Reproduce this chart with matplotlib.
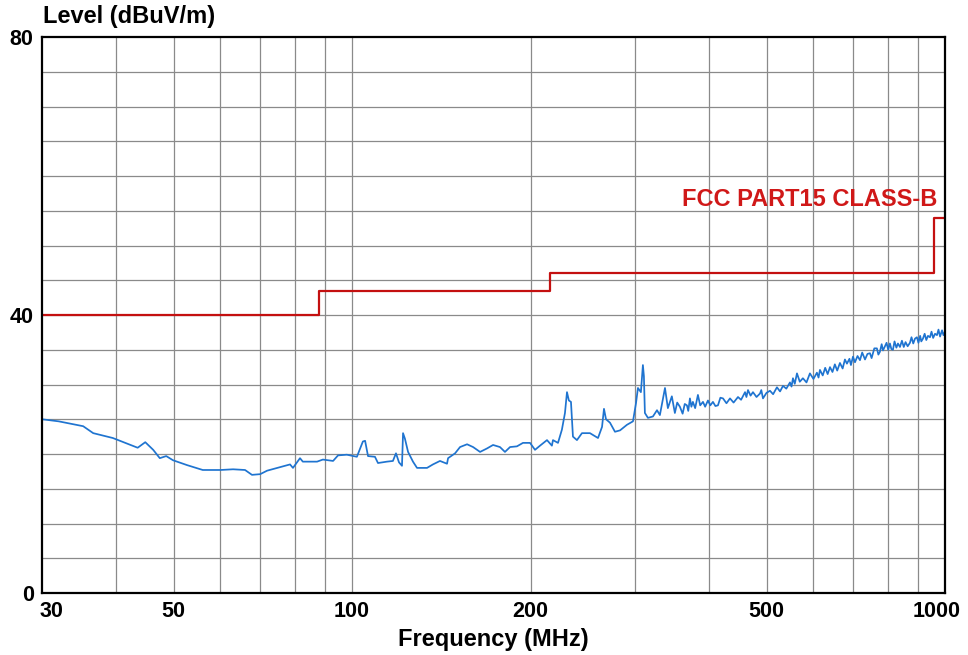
import matplotlib
matplotlib.use("Agg")
import matplotlib.pyplot as plt
import matplotlib.transforms as mtransforms
from matplotlib.ticker import NullFormatter, FixedLocator

plt.rcParams['font.family'] = ['Liberation Sans', 'DejaVu Sans']

# Measured emission trace (MHz, dBuV/m)
freq_mhz = [
    30.0, 32.0, 35.2, 36.6, 39.5, 43.5, 44.8, 46.2, 47.4, 48.6, 49.9, 52.7, 56.0,
    60.0, 63.0, 66.0, 67.8, 70.0, 71.9, 75.6, 78.6, 79.5, 81.7, 82.6, 87.3, 89.3,
    92.9, 94.7, 98.0, 101.9, 104.3, 105.2, 106.4, 109.3, 110.6, 114.5, 117.2, 118.6,
    120.0, 121.4, 121.9, 122.8, 124.3, 126.7, 128.7, 133.8, 136.9, 140.7, 144.6,
    145.2, 149.2, 152.1, 156.3, 160.0, 164.4, 168.9, 172.9, 177.6, 181.1, 184.7,
    189.7, 194.2, 199.6, 203.5, 207.5, 213.2, 217.3, 218.2, 222.5, 225.9, 228.6,
    230.4, 232.1, 234.0, 235.8, 239.5, 244.2, 251.9, 259.9, 264.0, 266.0, 268.1,
    272.3, 277.6, 283.1, 290.8, 297.7, 301.2, 303.5, 307.0, 309.4, 310.6, 311.8,
    315.5, 321.7, 326.8, 330.5, 337.1, 340.9, 346.2, 350.3, 353.5, 357.2, 361.0,
    364.0, 367.1, 369.0, 371.4, 373.5, 375.7, 379.0, 383.1, 386.5, 390.7, 394.0,
    398.3, 402.0, 406.1, 410.0, 414.1, 418.0, 422.3, 428.0, 433.9, 440.0, 447.6,
    453.0, 460.0, 462.5, 465.3, 470.0, 474.4, 481.0, 487.5, 490.0, 493.2, 500.0,
    506.8, 513.0, 520.7, 527.0, 533.0, 540.0, 547.7, 551.0, 554.1, 558.0, 562.8,
    569.0, 575.9, 584.0, 591.8, 600.0, 608.1, 612.0, 615.3, 622.0, 628.0, 634.0,
    639.8, 646.0, 652.0, 658.0, 665.0, 672.0, 678.0, 683.3, 690.0, 694.0, 699.5,
    705.0, 712.0, 718.8, 725.0, 733.0, 740.0, 747.2, 752.0, 760.0, 767.6, 772.0,
    776.6, 782.0, 786.0, 791.9, 797.0, 802.0, 807.5, 812.0, 817.0, 822.0, 828.0,
    833.0, 839.5, 846.0, 852.0, 858.0, 865.0, 872.7, 878.0, 884.0, 890.0, 896.7,
    902.0, 908.0, 912.0, 917.9, 924.0, 930.0, 936.0, 943.4, 949.0, 955.0, 962.0,
    969.4, 975.0, 981.0, 988.6, 994.0, 1000.0,
]
level_dbuv = [
    25.0, 24.7, 24.0, 23.0, 22.3, 20.9, 21.7, 20.6, 19.4, 19.7, 19.1, 18.4, 17.7,
    17.7, 17.8, 17.7, 17.0, 17.1, 17.6, 18.1, 18.5, 18.0, 19.4, 18.9, 18.9, 19.2,
    19.0, 19.8, 19.9, 19.6, 21.8, 21.9, 19.7, 19.6, 18.7, 18.9, 19.0, 20.1,
    18.8, 18.3, 23.0, 22.2, 20.3, 18.9, 18.0, 18.0, 18.5, 19.0, 18.6,
    19.4, 20.1, 21.0, 21.4, 21.0, 20.3, 20.8, 21.3, 21.0, 20.3, 21.0,
    21.1, 21.6, 21.6, 20.6, 21.2, 22.0, 21.2, 22.0, 21.6, 23.5, 25.9,
    28.9, 27.7, 27.5, 22.5, 22.0, 23.0, 23.0, 22.3, 23.9, 26.5, 25.0,
    24.5, 23.2, 23.4, 24.2, 24.7, 27.3, 29.5, 28.9, 32.8, 31.2, 25.9,
    25.2, 25.4, 26.3, 25.6, 29.5, 26.6, 28.3, 25.9, 27.4, 26.8, 25.8,
    27.2, 27.0, 26.2, 28.0, 26.8, 27.5, 26.6, 28.5, 27.0, 27.5, 26.8,
    27.7, 27.0, 27.5, 26.9, 27.0, 28.1, 28.0, 27.3, 28.0, 27.4, 28.2,
    27.8, 28.9, 28.2, 29.2, 28.4, 28.9, 28.2, 28.7, 29.2, 28.0, 28.8,
    29.1, 28.6, 29.6, 29.0, 29.8, 29.4, 30.3, 29.7, 30.9, 30.1, 31.6,
    30.4, 30.9, 30.3, 31.6, 30.8, 31.7, 31.0, 32.1, 31.3, 32.4, 31.5,
    32.5, 31.8, 32.9, 32.0, 33.1, 32.3, 33.6, 33.0, 33.7, 32.8, 34.0,
    33.2, 34.1, 33.5, 34.6, 33.6, 34.4, 34.5, 33.8, 35.2, 35.2, 34.3,
    34.7, 35.8, 34.9, 35.5, 36.0, 35.0, 35.9, 35.1, 35.0, 36.2, 35.3,
    35.9, 35.4, 36.3, 35.4, 36.1, 35.5, 36.0, 36.8, 35.9, 36.6, 36.8,
    36.0, 37.0, 36.2, 36.6, 37.3, 36.4, 37.0, 36.8, 37.6, 36.7, 37.3,
    37.1, 37.9, 36.9, 37.8, 37.1, 37.6,
]

# FCC Part 15 Class B limit (step edges)
limit_freq = [30, 88, 216, 960, 1000]
limit_level = [40, 43.5, 46, 54, 54]
limit_name = "FCC PART15 CLASS-B"

x_grid = [40, 50, 60, 70, 80, 90, 100, 200, 300, 400, 500, 600, 700, 800, 900]
x_tick_vals = [30, 50, 100, 200, 500, 1000]
x_tick_labels = ["30", "50", "100", "200", "500", "1000"]
y_grid = list(range(0, 81, 5))
y_tick_vals = [0, 40, 80]
y_tick_labels = ["0", "40", "80"]

W, H = 968, 655
fig = plt.figure(figsize=(W / 100, H / 100), dpi=100)
ax = fig.add_axes([42 / W, (H - 593) / H, 903 / W, 556 / H])
ax.set_xscale('log')
ax.set_xlim(30, 1000)
ax.set_ylim(0, 80)

# grid
for xv in x_grid:
    ax.axvline(xv, color='#8a8a8a', lw=0.9, zorder=1)
for yv in y_grid[1:-1]:
    ax.axhline(yv, color='#8a8a8a', lw=0.9, zorder=1)

ax.step(limit_freq, limit_level, where='post', color='#c41010', lw=1.6, zorder=3)
ax.plot(freq_mhz, level_dbuv, color='#1f74d0', lw=1.25, zorder=4)

ax.xaxis.set_major_locator(FixedLocator(x_tick_vals))
ax.xaxis.set_minor_locator(FixedLocator([]))
ax.xaxis.set_minor_formatter(NullFormatter())
ax.set_xticks(x_tick_vals)
ax.set_xticklabels(x_tick_labels, fontsize=15.5, fontweight='bold')
ax.set_yticks(y_tick_vals)
ax.set_yticklabels(y_tick_labels, fontsize=15.5, fontweight='bold')
ax.tick_params(axis='both', length=0)
ax.tick_params(axis='x', pad=6)
ax.tick_params(axis='y', pad=6)

xl = ax.get_xticklabels()
xl[0].set_horizontalalignment('left')
xl[0].set_transform(xl[0].get_transform() + mtransforms.ScaledTranslation(-2 / 100, 0, fig.dpi_scale_trans))
xl[-1].set_transform(xl[-1].get_transform() + mtransforms.ScaledTranslation(-8 / 100, 0, fig.dpi_scale_trans))

for sp in ax.spines.values():
    sp.set_linewidth(1.6)
    sp.set_color('black')
    sp.set_zorder(5)

ax.set_xlabel("Frequency (MHz)", fontsize=17, fontweight='bold', labelpad=4)
fig.text(43 / W, 1 - 17 / H, "Level (dBuV/m)", fontsize=17, fontweight='bold',
         ha='left', va='center')
ax.text((937 - 42) / 903, (593 - 200) / 556, limit_name, transform=ax.transAxes,
        color='#d01818', fontsize=17, fontweight='bold', ha='right', va='center', zorder=6)

fig.savefig("out.png", dpi=100, facecolor='white')
